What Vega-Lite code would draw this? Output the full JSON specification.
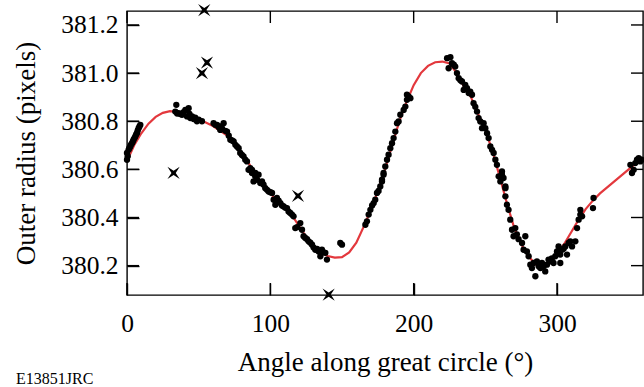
{
"$schema": "https://vega.github.io/schema/vega-lite/v6.json",
"width": 516, "height": 284,
"autosize": "none",
"padding": {"left": 127, "top": 11, "right": 1, "bottom": 92},
"background": "white",
"config": {
 "view": {"stroke": "black", "strokeWidth": 1.4, "fill": null},
 "font": "Liberation Serif",
 "axis": {"grid": false, "domain": false, "ticks": true, "tickColor": "#000000", "tickOpacity": 1, "tickWidth": 1.4, "tickSize": 12,
   "labelFont": "Liberation Serif", "labelFontSize": 25.5, "labelColor": "black", "labelFlush": false, "labelOverlap": false,
   "titleFont": "Liberation Serif", "titleFontSize": 27, "titleFontWeight": "normal", "titleColor": "black", "zindex": 2}
},
"title": {"text": "E13851JRC", "orient": "bottom", "anchor": "start", "frame": "group", "dx": -111, "offset": 0, "baseline": "alphabetic", "dy": 9,
  "fontSize": 16, "font": "Liberation Serif", "fontWeight": "normal", "color": "black"},
"datasets": {
 "xticks": [{"angle": 0}, {"angle": 100}, {"angle": 200}, {"angle": 300}],
 "yticks": [{"radius": 380.2}, {"radius": 380.4}, {"radius": 380.6}, {"radius": 380.8}, {"radius": 381.0}, {"radius": 381.2}],
 "curve": [
  {"angle":0,"radius":380.635},{"angle":5,"radius":380.7},{"angle":10,"radius":380.75},{"angle":15,"radius":380.79},
  {"angle":20,"radius":380.818},{"angle":25,"radius":380.835},{"angle":30,"radius":380.842},{"angle":35,"radius":380.838},
  {"angle":40,"radius":380.828},{"angle":45,"radius":380.815},{"angle":50,"radius":380.805},{"angle":55,"radius":380.795},
  {"angle":60,"radius":380.78},{"angle":65,"radius":380.76},{"angle":70,"radius":380.74},{"angle":75,"radius":380.71},
  {"angle":80,"radius":380.67},{"angle":85,"radius":380.625},{"angle":90,"radius":380.575},{"angle":95,"radius":380.535},
  {"angle":100,"radius":380.5},{"angle":105,"radius":380.47},{"angle":110,"radius":380.44},{"angle":115,"radius":380.41},
  {"angle":120,"radius":380.365},{"angle":125,"radius":380.32},{"angle":130,"radius":380.28},{"angle":135,"radius":380.255},
  {"angle":140,"radius":380.24},{"angle":145,"radius":380.233},{"angle":150,"radius":380.235},{"angle":155,"radius":380.255},
  {"angle":160,"radius":380.295},{"angle":165,"radius":380.36},{"angle":170,"radius":380.43},{"angle":175,"radius":380.51},
  {"angle":180,"radius":380.6},{"angle":185,"radius":380.7},{"angle":190,"radius":380.8},{"angle":195,"radius":380.88},
  {"angle":200,"radius":380.95},{"angle":205,"radius":381.0},{"angle":210,"radius":381.03},{"angle":215,"radius":381.045},
  {"angle":220,"radius":381.048},{"angle":225,"radius":381.04},{"angle":230,"radius":381.0},{"angle":235,"radius":380.945},
  {"angle":240,"radius":380.9},{"angle":245,"radius":380.83},{"angle":250,"radius":380.765},{"angle":255,"radius":380.675},
  {"angle":260,"radius":380.57},{"angle":265,"radius":380.46},{"angle":270,"radius":380.36},{"angle":275,"radius":380.29},
  {"angle":280,"radius":380.24},{"angle":285,"radius":380.205},{"angle":290,"radius":380.2},{"angle":295,"radius":380.22},
  {"angle":300,"radius":380.25},{"angle":305,"radius":380.29},{"angle":310,"radius":380.34},{"angle":315,"radius":380.39},
  {"angle":320,"radius":380.435},{"angle":325,"radius":380.47},{"angle":330,"radius":380.5},{"angle":335,"radius":380.525},
  {"angle":340,"radius":380.55},{"angle":345,"radius":380.575},{"angle":350,"radius":380.6},{"angle":355,"radius":380.625},
  {"angle":360,"radius":380.64}
 ],
 "dots": [
  {"angle":0,"radius":380.64},{"angle":0,"radius":380.668},{"angle":0.5,"radius":380.655},{"angle":1.1,"radius":380.681},
  {"angle":1.6,"radius":380.688},{"angle":2.3,"radius":380.695},{"angle":2.8,"radius":380.703},{"angle":3.5,"radius":380.709},
  {"angle":4.1,"radius":380.716},{"angle":4.6,"radius":380.723},{"angle":5.2,"radius":380.73},{"angle":5.8,"radius":380.737},
  {"angle":6.4,"radius":380.745},{"angle":7,"radius":380.751},{"angle":7.5,"radius":380.762},{"angle":8.1,"radius":380.771},
  {"angle":8.7,"radius":380.778},{"angle":9.3,"radius":380.785},
  {"angle":33.7,"radius":380.84},{"angle":34.4,"radius":380.868},{"angle":35,"radius":380.832},{"angle":36,"radius":380.834},
  {"angle":37.2,"radius":380.83},{"angle":38.4,"radius":380.827},{"angle":39.5,"radius":380.838},{"angle":40.7,"radius":380.847},
  {"angle":41.9,"radius":380.82},{"angle":43,"radius":380.854},{"angle":43.6,"radius":380.83},{"angle":44.2,"radius":380.813},
  {"angle":45.4,"radius":380.82},{"angle":46.5,"radius":380.809},{"angle":47.6,"radius":380.815},{"angle":48.8,"radius":380.8},
  {"angle":50,"radius":380.806},{"angle":52.3,"radius":380.8},
  {"angle":60.4,"radius":380.792},{"angle":61.6,"radius":380.785},{"angle":62.8,"radius":380.785},{"angle":64,"radius":380.775},
  {"angle":65.1,"radius":380.778},{"angle":65.1,"radius":380.764},{"angle":66.3,"radius":380.77},{"angle":67.4,"radius":380.792},
  {"angle":68.6,"radius":380.76},{"angle":69.8,"radius":380.757},{"angle":71,"radius":380.74},{"angle":72.1,"radius":380.723},
  {"angle":73.3,"radius":380.72},{"angle":74.4,"radius":380.716},{"angle":75.6,"radius":380.702},{"angle":76.7,"radius":380.695},
  {"angle":77.9,"radius":380.688},{"angle":79,"radius":380.668},{"angle":80.2,"radius":380.66},{"angle":81.3,"radius":380.654},
  {"angle":82.5,"radius":380.64},{"angle":83.7,"radius":380.633},{"angle":84.8,"radius":380.598},{"angle":86,"radius":380.605},
  {"angle":87.2,"radius":380.585},{"angle":87.2,"radius":380.598},{"angle":88.3,"radius":380.55},{"angle":89.5,"radius":380.571},
  {"angle":89.5,"radius":380.585},{"angle":90.7,"radius":380.557},{"angle":91.8,"radius":380.578},{"angle":93,"radius":380.543},
  {"angle":94.2,"radius":380.55},{"angle":95.3,"radius":380.536},{"angle":96.5,"radius":380.522},{"angle":97.7,"radius":380.515},
  {"angle":98.8,"radius":380.508},{"angle":100,"radius":380.505},{"angle":101.2,"radius":380.502},{"angle":102.3,"radius":380.474},
  {"angle":103.5,"radius":380.453},{"angle":104.6,"radius":380.481},{"angle":105.8,"radius":380.47},{"angle":107,"radius":380.46},
  {"angle":108.1,"radius":380.45},{"angle":109.3,"radius":380.446},{"angle":110.5,"radius":380.44},{"angle":111.6,"radius":380.439},
  {"angle":112.7,"radius":380.425},{"angle":113.9,"radius":380.419},{"angle":115.1,"radius":380.412},{"angle":116.2,"radius":380.405},
  {"angle":117.4,"radius":380.356},{"angle":118.6,"radius":380.36},{"angle":120.9,"radius":380.377},{"angle":122.1,"radius":380.349},
  {"angle":123.2,"radius":380.322},{"angle":124.4,"radius":380.315},{"angle":125.6,"radius":380.31},{"angle":126.7,"radius":380.301},
  {"angle":127.9,"radius":380.295},{"angle":129.1,"radius":380.287},{"angle":130.2,"radius":380.275},{"angle":131.4,"radius":380.266},
  {"angle":132.6,"radius":380.27},{"angle":133.7,"radius":380.259},{"angle":134.9,"radius":380.239},{"angle":136,"radius":380.266},
  {"angle":137.2,"radius":380.255},{"angle":138.4,"radius":380.253},{"angle":139.5,"radius":380.225},
  {"angle":148.8,"radius":380.294},{"angle":150,"radius":380.287},
  {"angle":166.3,"radius":380.37},{"angle":167.4,"radius":380.384},{"angle":168.6,"radius":380.412},{"angle":169.8,"radius":380.432},
  {"angle":171,"radius":380.45},{"angle":172.1,"radius":380.46},{"angle":173.2,"radius":380.474},{"angle":174.4,"radius":380.502},
  {"angle":175.5,"radius":380.51},{"angle":176.7,"radius":380.529},{"angle":177.9,"radius":380.55},{"angle":177.9,"radius":380.557},
  {"angle":179,"radius":380.578},{"angle":179,"radius":380.585},{"angle":180.2,"radius":380.612},{"angle":181.4,"radius":380.64},
  {"angle":182.5,"radius":380.661},{"angle":183.7,"radius":380.688},{"angle":184.9,"radius":380.709},{"angle":186,"radius":380.73},
  {"angle":187.2,"radius":380.757},{"angle":188.4,"radius":380.792},{"angle":189.5,"radius":380.799},{"angle":190.7,"radius":380.827},
  {"angle":193,"radius":380.847},{"angle":194.2,"radius":380.861},{"angle":195.3,"radius":380.889},{"angle":195.3,"radius":380.91},
  {"angle":196.5,"radius":380.903},{"angle":197.7,"radius":380.896},
  {"angle":223.3,"radius":381.062},{"angle":224.4,"radius":381.02},{"angle":225.6,"radius":381.066},{"angle":226.7,"radius":381.041},
  {"angle":228,"radius":381.035},{"angle":229,"radius":381.027},{"angle":230.2,"radius":381.0},{"angle":231.4,"radius":380.979},
  {"angle":232.6,"radius":380.97},{"angle":233.7,"radius":380.965},{"angle":234.9,"radius":380.93},{"angle":236,"radius":380.951},
  {"angle":237.2,"radius":380.937},{"angle":238.4,"radius":380.917},{"angle":239.5,"radius":380.923},{"angle":240.7,"radius":380.91},
  {"angle":241.8,"radius":380.875},{"angle":243,"radius":380.86},{"angle":244.2,"radius":380.84},{"angle":245.3,"radius":380.813},
  {"angle":246.5,"radius":380.799},{"angle":247.7,"radius":380.771},{"angle":248.8,"radius":380.792},{"angle":250,"radius":380.771},
  {"angle":251.2,"radius":380.75},{"angle":252.3,"radius":380.73},{"angle":253.5,"radius":380.695},{"angle":254.7,"radius":380.681},
  {"angle":255.8,"radius":380.668},{"angle":257,"radius":380.64},{"angle":258.1,"radius":380.619},{"angle":259.3,"radius":380.571},
  {"angle":260.5,"radius":380.55},{"angle":261.6,"radius":380.578},{"angle":261.6,"radius":380.591},{"angle":262.7,"radius":380.564},
  {"angle":264,"radius":380.529},{"angle":264,"radius":380.522},{"angle":264,"radius":380.488},{"angle":265.1,"radius":380.453},
  {"angle":266.2,"radius":380.432},{"angle":267.4,"radius":380.391},{"angle":268.6,"radius":380.349},{"angle":269.7,"radius":380.322},
  {"angle":270.9,"radius":380.356},{"angle":272,"radius":380.33},{"angle":273.2,"radius":380.31},{"angle":275.6,"radius":380.294},
  {"angle":276.7,"radius":380.266},{"angle":277.9,"radius":380.322},{"angle":279,"radius":380.259},{"angle":280.2,"radius":380.239},
  {"angle":281.4,"radius":380.204},{"angle":282.5,"radius":380.19},{"angle":283.7,"radius":380.211},{"angle":284.9,"radius":380.156},
  {"angle":286,"radius":380.218},{"angle":287.2,"radius":380.197},{"angle":288.4,"radius":380.19},{"angle":289.5,"radius":380.211},
  {"angle":290.7,"radius":380.197},{"angle":291.8,"radius":380.176},{"angle":293,"radius":380.204},{"angle":294.1,"radius":380.225},
  {"angle":295.3,"radius":380.218},{"angle":296.4,"radius":380.23},{"angle":297.6,"radius":380.211},{"angle":298.8,"radius":380.239},
  {"angle":300,"radius":380.259},{"angle":301.1,"radius":380.28},{"angle":302.3,"radius":380.246},{"angle":302.3,"radius":380.211},
  {"angle":303.5,"radius":380.266},{"angle":304.6,"radius":380.27},{"angle":305.8,"radius":380.28},{"angle":307,"radius":380.246},
  {"angle":308.1,"radius":380.294},{"angle":309.3,"radius":380.301},{"angle":310.5,"radius":380.28},{"angle":312.8,"radius":380.301},
  {"angle":314,"radius":380.356},{"angle":315.1,"radius":380.391},{"angle":316.3,"radius":380.412},{"angle":316.3,"radius":380.432},
  {"angle":317.5,"radius":380.405},{"angle":325.1,"radius":380.439},{"angle":325.5,"radius":380.481},
  {"angle":351.2,"radius":380.619},{"angle":352.3,"radius":380.585},{"angle":353.5,"radius":380.598},{"angle":354.6,"radius":380.626},
  {"angle":355.8,"radius":380.64},{"angle":357,"radius":380.647},{"angle":358.1,"radius":380.633},{"angle":359,"radius":380.64}
 ],
 "outliers": [
  {"angle":32.5,"radius":380.585},{"angle":53.9,"radius":381.262},{"angle":52.3,"radius":381.0},
  {"angle":55.8,"radius":381.044},{"angle":119.3,"radius":380.49},{"angle":140.7,"radius":380.08}
 ]
},
"layer": [
 {"data": {"name": "curve"},
  "mark": {"type": "line", "color": "#e3383d", "strokeWidth": 2.2},
  "encoding": {
   "x": {"field": "angle", "type": "quantitative", "scale": {"domain": [0, 360], "nice": false, "zero": false},
     "axis": {"orient": "bottom", "values": [0, 100, 200, 300], "offset": -12, "tickSize": 12,
       "labelPadding": 36, "labelBaseline": "alphabetic",
       "title": "Angle along great circle (°)", "titleX": 258, "titleY": 87, "titleBaseline": "alphabetic", "titleAlign": "center"}},
   "y": {"field": "radius", "type": "quantitative", "scale": {"domain": [380.078, 381.258], "nice": false, "zero": false},
     "axis": {"orient": "left", "values": [380.2, 380.4, 380.6, 380.8, 381.0, 381.2], "format": ".1f", "offset": -12, "tickSize": 12,
       "labelPadding": 9,
       "title": "Outer radius (pixels)", "titleX": -105, "titleY": 142, "titleAngle": 270, "titleBaseline": "alphabetic", "titleAlign": "center"}}
  }},
 {"data": {"name": "xticks"},
  "mark": {"type": "tick", "orient": "vertical", "color": "black", "opacity": 1, "size": 12, "thickness": 1.4, "yOffset": -6},
  "encoding": {
   "x": {"field": "angle", "type": "quantitative", "axis": null},
   "y": {"datum": 380.078, "type": "quantitative", "axis": null}
  }},
 {"data": {"name": "xticks"},
  "mark": {"type": "tick", "orient": "vertical", "color": "black", "opacity": 1, "size": 12, "thickness": 1.4, "yOffset": 6},
  "encoding": {
   "x": {"field": "angle", "type": "quantitative", "axis": null},
   "y": {"datum": 381.258, "type": "quantitative", "axis": null}
  }},
 {"data": {"name": "yticks"},
  "mark": {"type": "tick", "orient": "horizontal", "color": "black", "opacity": 1, "size": 12, "thickness": 1.4, "xOffset": 6},
  "encoding": {
   "y": {"field": "radius", "type": "quantitative", "axis": null},
   "x": {"datum": 0, "type": "quantitative", "axis": null}
  }},
 {"data": {"name": "yticks"},
  "mark": {"type": "tick", "orient": "horizontal", "color": "black", "opacity": 1, "size": 12, "thickness": 1.4, "xOffset": -6},
  "encoding": {
   "y": {"field": "radius", "type": "quantitative", "axis": null},
   "x": {"datum": 360, "type": "quantitative", "axis": null}
  }},
 {"data": {"name": "dots"},
  "mark": {"type": "circle", "color": "black", "opacity": 1, "size": 40},
  "encoding": {
   "x": {"field": "angle", "type": "quantitative", "axis": null},
   "y": {"field": "radius", "type": "quantitative", "axis": null}
  }},
 {"data": {"name": "outliers"},
  "mark": {"type": "point", "shape": "M-1,-1L0,-0.35L1,-1L0.35,0L1,1L0,0.35L-1,1L-0.35,0Z", "filled": true, "color": "black", "opacity": 1, "size": 150},
  "encoding": {
   "x": {"field": "angle", "type": "quantitative", "axis": null},
   "y": {"field": "radius", "type": "quantitative", "axis": null}
  }}
],
"resolve": {"axis": {"x": "independent", "y": "independent"}}
}
